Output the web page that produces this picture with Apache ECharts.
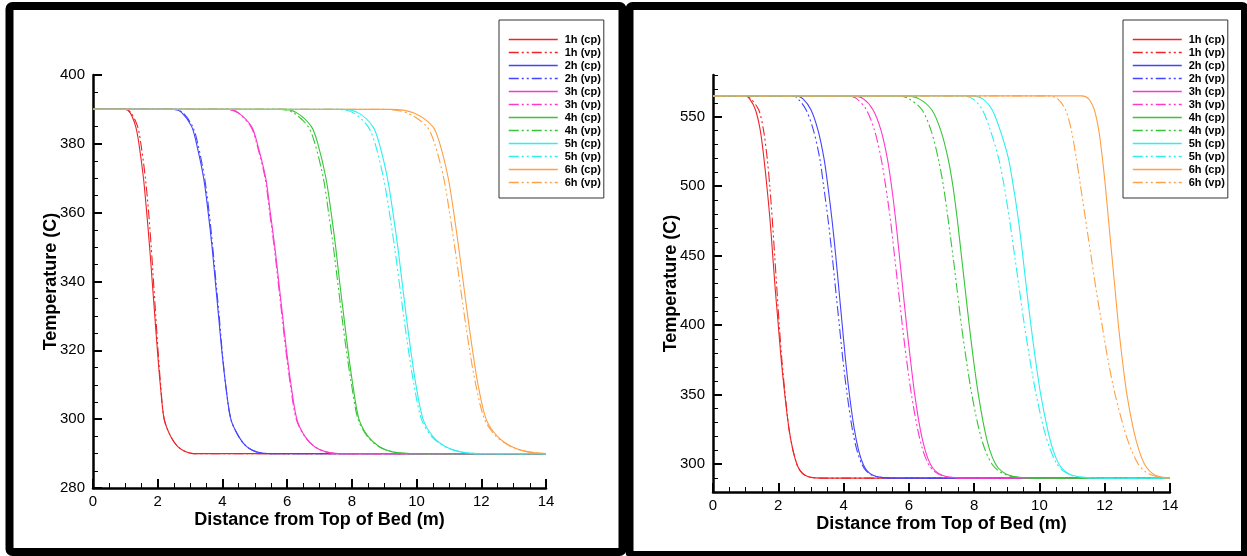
<!DOCTYPE html>
<html><head><meta charset="utf-8">
<script src="https://cdn.jsdelivr.net/npm/echarts@6/dist/echarts.min.js"></script>
<style>html,body{margin:0;padding:0;background:#fff}#c{width:1247px;height:556px}</style>
</head><body><div id="c"></div>
<script>
// ---------- data ----------
const seriesNames = ['1h (cp)','1h (vp)','2h (cp)','2h (vp)','3h (cp)','3h (vp)','4h (cp)','4h (vp)','5h (cp)','5h (vp)','6h (cp)','6h (vp)'];
const hourColors = ['#ee2428','#4444ff','#ff38cc','#36c636','#2cefef','#ffa044'];
const xTickValues = [0,2,4,6,8,10,12,14];
const leftYTickValues = [280,300,320,340,360,380,400];
const rightYTickValues = [300,350,400,450,500,550];

// Left panel: temperature levels (C) and the distance (m) at which each curve reaches them
const tempLevelsLeft = [390, 389, 385, 380, 370, 360, 350, 340, 330, 320, 310, 300, 295, 292, 290.5, 290];
const left1hCp = [1.0, 1.15, 1.32, 1.42, 1.56, 1.66, 1.75, 1.83, 1.91, 1.99, 2.08, 2.2, 2.4, 2.62, 2.87, 3.1];
const left1hVp = [1.0, 1.18, 1.38, 1.48, 1.62, 1.72, 1.8, 1.87, 1.94, 2.01, 2.09, 2.2, 2.4, 2.62, 2.87, 3.1];
const left2hCp = [2.5, 2.75, 3.05, 3.2, 3.42, 3.56, 3.68, 3.78, 3.88, 3.98, 4.1, 4.26, 4.5, 4.75, 5.05, 5.4];
const left2hVp = [2.5, 2.78, 3.08, 3.24, 3.45, 3.59, 3.7, 3.8, 3.9, 3.99, 4.1, 4.26, 4.5, 4.75, 5.05, 5.4];
const left3hCp = [4.2, 4.5, 4.9, 5.08, 5.34, 5.48, 5.62, 5.74, 5.86, 5.98, 6.12, 6.3, 6.55, 6.85, 7.2, 7.6];
const left3hVp = [4.15, 4.48, 4.88, 5.06, 5.32, 5.46, 5.6, 5.72, 5.84, 5.96, 6.1, 6.28, 6.54, 6.85, 7.2, 7.6];
const left4hCp = [5.9, 6.3, 6.75, 6.95, 7.2, 7.36, 7.5, 7.62, 7.75, 7.88, 8.03, 8.22, 8.5, 8.85, 9.25, 9.8];
const left4hVp = [5.8, 6.2, 6.65, 6.86, 7.12, 7.28, 7.43, 7.56, 7.69, 7.83, 7.99, 8.19, 8.48, 8.84, 9.25, 9.8];
const left5hCp = [7.7, 8.2, 8.65, 8.85, 9.1, 9.27, 9.42, 9.55, 9.68, 9.82, 9.98, 10.2, 10.5, 10.9, 11.35, 11.9];
const left5hVp = [7.55, 8.05, 8.5, 8.72, 8.98, 9.16, 9.32, 9.46, 9.6, 9.75, 9.92, 10.15, 10.46, 10.88, 11.35, 11.9];
const left6hCp = [9.2, 9.9, 10.5, 10.72, 10.98, 11.15, 11.3, 11.44, 11.58, 11.73, 11.9, 12.15, 12.5, 12.95, 13.45, 14.0];
const left6hVp = [9.0, 9.7, 10.32, 10.56, 10.84, 11.02, 11.18, 11.33, 11.48, 11.64, 11.83, 12.1, 12.46, 12.93, 13.45, 14.0];

// Right panel
const tempLevelsRight = [565, 563, 555, 540, 520, 500, 475, 450, 425, 400, 375, 350, 325, 310, 300, 295, 292, 290.5, 290];
const right1hCp = [1.0, 1.12, 1.3, 1.45, 1.56, 1.65, 1.75, 1.83, 1.91, 2.0, 2.09, 2.2, 2.33, 2.45, 2.57, 2.68, 2.82, 3.0, 3.3];
const right1hVp = [1.0, 1.15, 1.4, 1.55, 1.66, 1.74, 1.82, 1.89, 1.96, 2.03, 2.11, 2.21, 2.33, 2.45, 2.57, 2.68, 2.82, 3.0, 3.3];
const right2hCp = [2.55, 2.75, 3.0, 3.22, 3.4, 3.52, 3.65, 3.76, 3.86, 3.96, 4.06, 4.18, 4.33, 4.46, 4.6, 4.73, 4.9, 5.15, 5.5];
const right2hVp = [2.45, 2.6, 2.85, 3.08, 3.27, 3.39, 3.53, 3.65, 3.76, 3.87, 3.98, 4.11, 4.27, 4.41, 4.56, 4.7, 4.88, 5.13, 5.5];
const right3hCp = [4.3, 4.6, 4.9, 5.15, 5.34, 5.47, 5.6, 5.71, 5.82, 5.93, 6.05, 6.18, 6.35, 6.5, 6.66, 6.82, 7.02, 7.3, 7.7];
const right3hVp = [4.15, 4.4, 4.7, 4.95, 5.15, 5.29, 5.44, 5.56, 5.68, 5.8, 5.93, 6.08, 6.27, 6.43, 6.6, 6.77, 6.99, 7.28, 7.7];
const right4hCp = [5.9, 6.3, 6.7, 6.98, 7.2, 7.35, 7.49, 7.61, 7.73, 7.85, 7.98, 8.13, 8.32, 8.48, 8.66, 8.84, 9.07, 9.38, 9.8];
const right4hVp = [5.7, 6.0, 6.4, 6.68, 6.9, 7.06, 7.21, 7.35, 7.48, 7.61, 7.76, 7.93, 8.15, 8.34, 8.55, 8.76, 9.02, 9.35, 9.8];
const right5hCp = [7.9, 8.25, 8.55, 8.8, 9.05, 9.2, 9.36, 9.49, 9.61, 9.74, 9.88, 10.04, 10.25, 10.42, 10.6, 10.78, 11.0, 11.35, 11.9];
const right5hVp = [7.6, 7.95, 8.25, 8.5, 8.75, 8.92, 9.09, 9.24, 9.39, 9.54, 9.71, 9.9, 10.14, 10.34, 10.54, 10.74, 10.98, 11.33, 11.9];
const right6hCp = [11.3, 11.5, 11.68, 11.82, 11.93, 12.02, 12.12, 12.22, 12.32, 12.42, 12.54, 12.68, 12.88, 13.05, 13.22, 13.38, 13.55, 13.78, 14.0];
const right6hVp = [10.3, 10.55, 10.8, 10.98, 11.13, 11.26, 11.42, 11.58, 11.74, 11.92, 12.1, 12.32, 12.6, 12.82, 13.03, 13.22, 13.45, 13.72, 14.0];

const xMin = 0, xMax = 14;
const leftCurves = [left1hCp,left1hVp,left2hCp,left2hVp,left3hCp,left3hVp,left4hCp,left4hVp,left5hCp,left5hVp,left6hCp,left6hVp];
const rightCurves = [right1hCp,right1hVp,right2hCp,right2hVp,right3hCp,right3hVp,right4hCp,right4hVp,right5hCp,right5hVp,right6hCp,right6hVp];

// ---------- build ----------
const FONT = '"Liberation Sans", Arial, sans-serif';
const DASH_DOT_DOT = [10, 3, 2, 3, 2, 3];

function buildPoints(xs, levels) {
  const pts = [[xMin, levels[0]]];
  xs.forEach((x, i) => pts.push([x, levels[i]]));
  pts.push([xMax, levels[levels.length - 1]]);
  return pts;
}
function makeSeries(curves, levels, xi, yi) {
  return curves.map((xs, i) => ({
    name: seriesNames[i], type: 'line', xAxisIndex: xi, yAxisIndex: yi,
    data: buildPoints(xs, levels), showSymbol: false, symbol: 'none',
    smooth: 0.3,
    color: hourColors[Math.floor(i / 2)],
    lineStyle: { width: 1.1, color: hourColors[Math.floor(i / 2)], type: i % 2 ? DASH_DOT_DOT : 'solid' },
    emphasis: { disabled: true }, animation: false
  }));
}

const axisLineStyle = { show: true, onZero: false, lineStyle: { color: '#000', width: 2.5 } };
function xAxisCfg(grid) {
  return {
    type: 'value', gridIndex: grid, min: xMin, max: xMax, interval: 2,
    axisLine: axisLineStyle,
    axisTick: { show: true, inside: true, length: 9, lineStyle: { color: '#000', width: 2 } },
    minorTick: { show: true, splitNumber: 4, length: 5, lineStyle: { color: '#000', width: 1 } },
    splitLine: { show: false },
    axisLabel: { color: '#000', fontSize: 15, fontFamily: FONT, margin: 6,
      formatter: v => xTickValues.includes(v) ? String(v) : '' },
    name: 'Distance from Top of Bed (m)', nameLocation: 'middle', nameGap: 23, nameMoveOverlap: false,
    nameTextStyle: { color: '#000', fontSize: 18, fontWeight: 'bold', fontFamily: FONT }
  };
}
const yName = { name: 'Temperature (C)', nameLocation: 'middle', nameGap: 33, nameMoveOverlap: false,
  nameTextStyle: { color: '#000', fontSize: 18, fontWeight: 'bold', fontFamily: FONT } };

const option = {
  animation: false,
  textStyle: { fontFamily: FONT },
  graphic: [
    { type: 'rect', shape: { x: 9.5, y: 6, width: 613, height: 546, r: 3 }, style: { fill: 'none', stroke: '#000', lineWidth: 8 }, silent: true },
    { type: 'rect', shape: { x: 629.5, y: 6, width: 615.5, height: 549, r: 3 }, style: { fill: 'none', stroke: '#000', lineWidth: 8 }, silent: true }
  ],
  grid: [
    { left: 93, top: 75, width: 453, height: 413, containLabel: false },
    { left: 713, top: 75, width: 457, height: 417, containLabel: false }
  ],
  legend: [0, 1].map(k => ({
    data: seriesNames, orient: 'vertical',
    left: k === 0 ? 499 : 1123, top: 20,
    itemWidth: 49, itemHeight: 8, itemGap: 2,
    padding: [14, 3, 10, 9],
    borderColor: '#333', borderWidth: 1, backgroundColor: '#fff',
    textStyle: { color: '#000', fontSize: 11, fontWeight: 'bold', fontFamily: FONT, padding: [0, 0, 0, 2] },
    lineStyle: { width: 1.5 },
    itemStyle: { color: 'rgba(0,0,0,0)', borderWidth: 0, opacity: 0 },
    selectedMode: false
  })),
  xAxis: [xAxisCfg(0), xAxisCfg(1)],
  yAxis: [
    Object.assign({
      type: 'value', gridIndex: 0, min: 280, max: 400, interval: 20, position: 'left',
      axisLine: axisLineStyle,
      axisTick: { show: true, inside: true, length: 9, lineStyle: { color: '#000', width: 2 } },
      minorTick: { show: true, splitNumber: 4, length: 5, lineStyle: { color: '#000', width: 1 } },
      splitLine: { show: false },
      axisLabel: { color: '#000', fontSize: 15, fontFamily: FONT, margin: 8,
        formatter: v => leftYTickValues.includes(v) ? String(v) : '' }
    }, yName),
    Object.assign({
      type: 'value', gridIndex: 1, min: 280, max: 580, interval: 10, position: 'left',
      axisLine: axisLineStyle,
      axisTick: { show: true, inside: true, length: 5, lineStyle: { color: '#000', width: 1 } },
      splitLine: { show: false },
      axisLabel: { color: '#000', fontSize: 15, fontFamily: FONT, margin: 8,
        formatter: v => rightYTickValues.includes(v) ? String(v) : '' }
    }, yName),
    {
      type: 'value', gridIndex: 1, min: 280, max: 580, interval: 10, position: 'left',
      axisLine: { show: false },
      axisTick: { show: true, inside: true, length: 9, lineStyle: { color: '#000', width: 2 }, customValues: rightYTickValues },
      axisLabel: { show: false }, splitLine: { show: false }
    }
  ],
  series: [].concat(makeSeries(leftCurves, tempLevelsLeft, 0, 0), makeSeries(rightCurves, tempLevelsRight, 1, 1))
};
const chart = echarts.init(document.getElementById('c'), null, { renderer: 'canvas' });
chart.setOption(option);
</script></body></html>
